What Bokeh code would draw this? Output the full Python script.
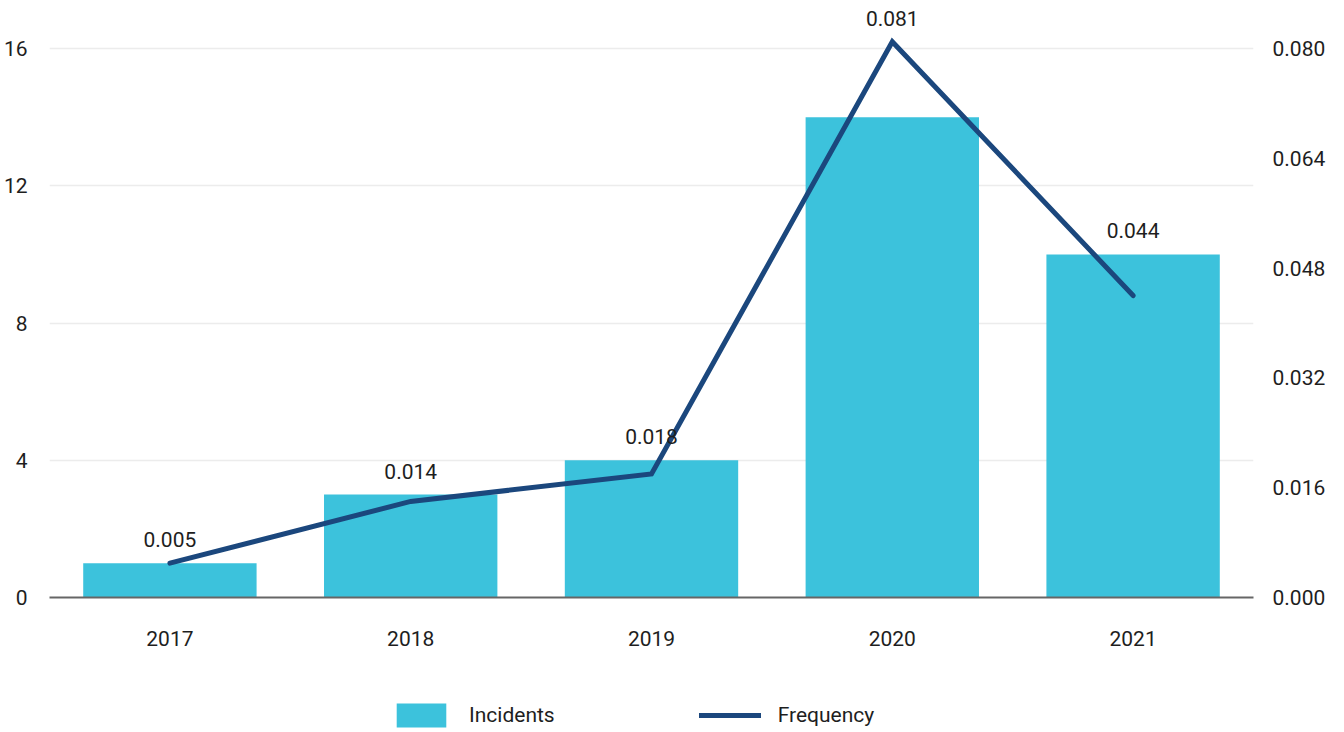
from bokeh.plotting import figure
from bokeh.layouts import column
from bokeh.models import (ColumnDataSource, LinearAxis, Range1d, FixedTicker, Grid,
                          NumeralTickFormatter, Legend, LegendItem, CategoricalAxis)
from bokeh.core.properties import value
from bokeh.embed import file_html
from bokeh.resources import INLINE

years = ["2017", "2018", "2019", "2020", "2021"]
incidents = [1, 3, 4, 14, 10]
frequency = [0.005, 0.014, 0.018, 0.081, 0.044]
freq_labels = ["0.005", "0.014", "0.018", "0.081", "0.044"]
left_ticks = [0, 4, 8, 12, 16]
right_ticks = [0.0, 0.016, 0.032, 0.048, 0.064, 0.080]
series_names = ["Incidents", "Frequency"]

FONT = "Roboto"
FS = "21px"
BAR = "#3CC2DC"
LINE = "#1B477D"
TXT = "#1e1e1e"

left_max = 17.4
ratio = 0.08 / 16.0
label_y = [max(i * ratio, f) for i, f in zip(incidents, frequency)]

src = ColumnDataSource(dict(year=years, inc=incidents, freq=frequency,
                            lab=freq_labels, ly=label_y))

p = figure(width=1328, height=680, x_range=years, y_range=Range1d(0, left_max),
           output_backend="svg", toolbar_location=None,
           x_axis_location=None, y_axis_location=None,
           min_border_left=42, min_border_right=0, min_border_top=0, min_border_bottom=83)
p.extra_y_ranges = {"freq": Range1d(0, left_max * ratio)}
p.outline_line_color = None
p.background_fill_color = "white"
p.border_fill_color = "white"
p.xgrid.grid_line_color = None
p.ygrid.grid_line_color = None

la = LinearAxis(ticker=FixedTicker(ticks=left_ticks))
la.axis_line_color = None
la.major_tick_line_color = None
la.minor_tick_line_color = None
la.major_label_text_font = FONT
la.major_label_text_font_size = FS
la.major_label_text_color = TXT
la.major_label_standoff = 16
p.add_layout(la, "left")

ra = LinearAxis(y_range_name="freq", ticker=FixedTicker(ticks=right_ticks),
                formatter=NumeralTickFormatter(format="0.000"))
ra.axis_line_color = None
ra.major_tick_line_color = None
ra.minor_tick_line_color = None
ra.major_label_text_font = FONT
ra.major_label_text_font_size = FS
ra.major_label_text_color = TXT
ra.major_label_standoff = 13
p.add_layout(ra, "right")

g = Grid(dimension=1, ticker=FixedTicker(ticks=left_ticks[1:]))
g.grid_line_color = "#ececec"
g.grid_line_width = 1.5
p.add_layout(g)

xa = CategoricalAxis()
xa.axis_line_color = "#666666"
xa.axis_line_width = 2
xa.major_tick_line_color = None
xa.minor_tick_line_color = None
xa.major_label_text_font = FONT
xa.major_label_text_font_size = FS
xa.major_label_text_color = TXT
xa.major_label_standoff = 27
p.add_layout(xa, "below")
p.x_range.range_padding = 0

p.vbar(x="year", top="inc", width=0.72, source=src, color=BAR, line_color=None)
p.line(x="year", y="freq", source=src, y_range_name="freq", line_color=LINE,
       line_width=5, line_cap="round", line_join="miter")

p.text(x="year", y="ly", text="lab", source=src, y_range_name="freq",
       text_align="center", text_baseline="bottom", y_offset=-16,
       text_font=value(FONT), text_font_size=FS, text_color=TXT)

# Legend strip (its glyph renderers have no drawable data; only the legend shows)
lf = figure(width=1328, height=50, x_range=Range1d(0, 1), y_range=Range1d(0, 1),
            output_backend="svg", toolbar_location=None,
            x_axis_location=None, y_axis_location=None,
            min_border_left=0, min_border_right=0, min_border_top=0, min_border_bottom=0)
lf.outline_line_color = None
lf.xgrid.grid_line_color = None
lf.ygrid.grid_line_color = None
nan = float("nan")
off = ColumnDataSource(dict(x=[nan, nan], y=[nan, nan]))
rb = lf.vbar(x="x", top="y", width=0.5, source=off, color=BAR, line_color=None)
rl = lf.line(x="x", y="y", source=off, line_color=LINE, line_width=5, line_cap="round")

legend = Legend(items=[LegendItem(label=series_names[0], renderers=[rb]),
                       LegendItem(label=series_names[1], renderers=[rl])],
                orientation="horizontal", location=(341, 0))
legend.border_line_color = None
legend.background_fill_alpha = 0
legend.padding = 0
legend.margin = 0
legend.spacing = 144
legend.glyph_width = 62
legend.glyph_height = 30
legend.label_standoff = 17
legend.label_text_font = FONT
legend.label_text_font_size = FS
legend.label_text_color = TXT
lf.add_layout(legend, "center")

layout = column(p, lf, spacing=0)
open("out.html", "w").write(file_html(layout, INLINE))
